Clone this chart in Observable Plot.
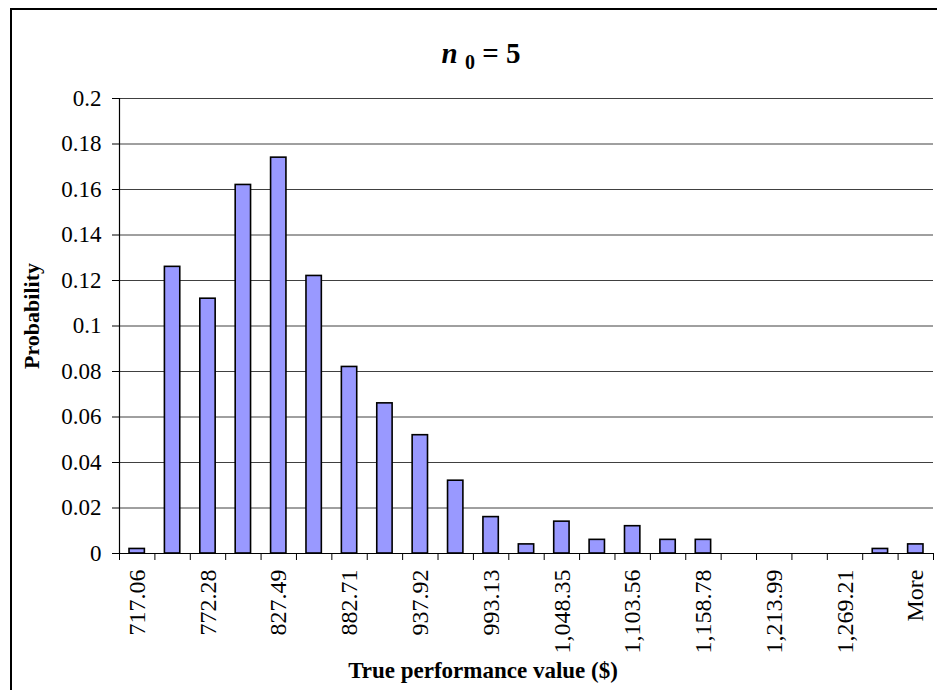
<!DOCTYPE html>
<html>
<head>
<meta charset="utf-8">
<script src="https://cdn.jsdelivr.net/npm/d3@7"></script>
<script src="https://cdn.jsdelivr.net/npm/@observablehq/plot@0.6"></script>
<style>
  html, body { margin: 0; padding: 0; background: #fff; }
  #chart { position: relative; width: 937px; height: 690px; overflow: hidden;
           font-family: "Liberation Serif", "Times New Roman", serif; }
  #frame { position: absolute; left: 10px; top: 8px; width: 2000px; height: 2000px;
           border-left: 2px solid #000; border-top: 2px solid #000; box-sizing: border-box; }
  .ttl { position: absolute; font-weight: bold; color: #000; white-space: nowrap; line-height: 1; }
  #title { left: 481px; top: 39px; transform: translateX(-50%); font-size: 29px; }
  #title sub { font-size: 20px; position: relative; top: 6px; vertical-align: baseline; }
  #xtitle { left: 483px; top: 659px; transform: translateX(-50%); font-size: 23px; }
  #ytitle { left: 32px; top: 316px; transform: translate(-50%, -50%) rotate(-90deg); font-size: 22px; }
</style>
</head>
<body>
<div id="chart">
  <div id="frame"></div>
</div>
<script>
// Histogram bins (upper bin edges, $) and the share of runs falling in each
const bins = ["717.06", "744.67", "772.28", "799.88", "827.49", "855.10", "882.71", "910.31",
  "937.92", "965.52", "993.13", "1,020.74", "1,048.35", "1,075.95", "1,103.56", "1,131.17",
  "1,158.78", "1,186.38", "1,213.99", "1,241.60", "1,269.21", "1,296.81", "More"];
const probability = [0.002, 0.126, 0.112, 0.162, 0.174, 0.122, 0.082, 0.066, 0.052, 0.032,
  0.016, 0.004, 0.014, 0.006, 0.012, 0.006, 0.006, 0, 0, 0, 0, 0.002, 0.004];
const yTicks = [0, 0.02, 0.04, 0.06, 0.08, 0.1, 0.12, 0.14, 0.16, 0.18, 0.2];

const data = bins.map((bin, i) => ({i, bin, p: probability[i]}));
const gap = 0.283; // clear space on each side of a bar, as a fraction of the category width
const font = '"Liberation Serif", "Times New Roman", serif';

const chart = Plot.plot({
  width: 937,
  height: 690,
  marginLeft: 119,
  marginRight: 4,
  marginTop: 98,
  marginBottom: 137,
  style: {fontFamily: font, fontSize: "22px", color: "#000", background: "transparent"},
  x: {domain: [0, bins.length], axis: null, label: null},
  y: {domain: [0, 0.2], axis: null, label: null},
  marks: [
    Plot.gridY(yTicks, {stroke: "#000", strokeOpacity: 0.75, strokeWidth: 1}),
    Plot.rectY(data.filter(d => d.p > 0), {
      x1: d => d.i + gap,
      x2: d => d.i + 1 - gap,
      y1: 0,
      y2: "p",
      fill: "#9999FF",
      stroke: "#000",
      strokeWidth: 1.6
    }),
    Plot.axisY(yTicks, {
      label: null,
      tickSize: 7,
      tickPadding: 11,
      fontSize: 23,
      tickFormat: d => String(+d.toFixed(2))
    }),
    Plot.ruleX([0], {stroke: "#000", strokeWidth: 1.2}),
    Plot.ruleY([0], {stroke: "#000", strokeWidth: 1.2}),
    // category boundary ticks below the axis
    Plot.axisX(d3.range(bins.length + 1), {label: null, tickSize: 7, tickFormat: () => ""}),
    // every other category label, rotated
    Plot.axisX(data.filter(d => d.i % 2 === 0).map(d => d.i + 0.5), {
      label: null,
      tickSize: 0,
      tickPadding: 16,
      tickRotate: -90,
      fontSize: 24,
      tickFormat: d => bins[Math.floor(d)]
    })
  ]
});
chart.style.position = "absolute";
chart.style.left = "0px";
chart.style.top = "0px";

const root = document.getElementById("chart");
root.appendChild(chart);

const title = document.createElement("div");
title.id = "title";
title.className = "ttl";
title.innerHTML = "<i>n</i> <sub>0</sub> = 5";
root.appendChild(title);

const xt = document.createElement("div");
xt.id = "xtitle";
xt.className = "ttl";
xt.textContent = "True performance value ($)";
root.appendChild(xt);

const yt = document.createElement("div");
yt.id = "ytitle";
yt.className = "ttl";
yt.textContent = "Probability";
root.appendChild(yt);
</script>
</body>
</html>
